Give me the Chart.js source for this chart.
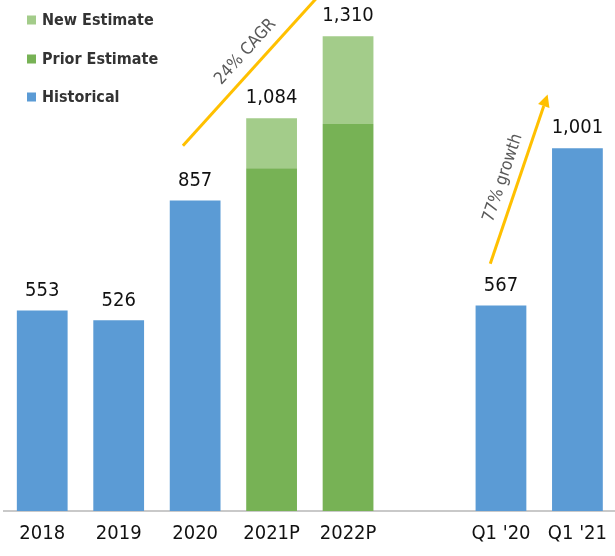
<!DOCTYPE html>
<html><head><meta charset="utf-8">
<script src="https://cdn.jsdelivr.net/npm/chart.js@4/dist/chart.umd.min.js"></script>
<style>
html,body{margin:0;padding:0;background:#fff;overflow:hidden;}
#wrap{position:relative;width:618px;height:556px;}
</style></head>
<body><div id="wrap"><canvas id="c"></canvas></div>
<script>
const categories = ["2018","2019","2020","2021P","2022P","","Q1 '20","Q1 '21"];
const historical = [553,526,857,null,null,null,567,1001];
const priorEstimate = [null,null,null,946,1068,null,null,null];
const newEstimate = [null,null,null,138,242,null,null,null];
const totals = [553,526,857,1084,1310,null,567,1001];
// annotations in data coordinates: [category index, value]
const cagrLine = [[1.84,1008],[3.63,1425]];
const cagrText = {text:"24% CAGR", at:[2.66,1267]};
const growthArrow = [[5.86,682],[6.61,1149]];
const growthText = {text:"77% growth", at:[6.027,919]};

const FONT = "'DejaVu Sans Condensed','DejaVu Sans','Open Sans',sans-serif";

const legendPlugin = {
  id:'customLegend',
  afterDraw(chart){
    const ctx = chart.ctx;
    const items = chart.data.datasets.slice().reverse();
    const ys = [20,59,97];
    ctx.save();
    ctx.font = "bold 16px " + FONT;
    ctx.textBaseline = 'middle';
    items.forEach((ds,i)=>{
      ctx.fillStyle = ds.backgroundColor;
      ctx.fillRect(27, ys[i]-4.5, 9, 9);
      ctx.fillStyle = '#333333';
      ctx.fillText(ds.label, 42, ys[i]+1);
    });
    ctx.restore();
  }
};

const labelPlugin = {
  id:'totals',
  afterDatasetsDraw(chart){
    const ctx = chart.ctx;
    ctx.save();
    ctx.font = "20px " + FONT;
    ctx.fillStyle = '#111111';
    ctx.textAlign = 'center';
    ctx.textBaseline = 'bottom';
    totals.forEach((t,i)=>{
      if(t==null) return;
      let top = null, x = null;
      chart.data.datasets.forEach((ds,di)=>{
        if(ds.data[i]==null) return;
        const el = chart.getDatasetMeta(di).data[i];
        if(top===null || el.y < top){ top = el.y; x = el.x; }
      });
      ctx.fillText(t.toLocaleString('en-US'), x, top - 10);
    });
    ctx.restore();
  }
};

const annotPlugin = {
  id:'annot',
  afterDraw(chart){
    const xs = chart.scales.x, ys = chart.scales.y, ctx = chart.ctx;
    const px = p => [xs.getPixelForValue(p[0]), ys.getPixelForValue(p[1])];
    ctx.save();
    ctx.strokeStyle = '#FFC000';
    ctx.fillStyle = '#FFC000';
    ctx.lineWidth = 3;
    ctx.lineCap = 'butt';
    let a = px(cagrLine[0]), b = px(cagrLine[1]);
    ctx.beginPath(); ctx.moveTo(a[0],a[1]); ctx.lineTo(b[0],b[1]); ctx.stroke();
    const ang1 = Math.atan2(b[1]-a[1], b[0]-a[0]);
    let c = px(growthArrow[0]), d = px(growthArrow[1]);
    const ang2 = Math.atan2(d[1]-c[1], d[0]-c[0]);
    const hl = 12, hw = 6;
    const bx = d[0]-hl*Math.cos(ang2), by = d[1]-hl*Math.sin(ang2);
    ctx.beginPath(); ctx.moveTo(c[0],c[1]); ctx.lineTo(bx,by); ctx.stroke();
    ctx.beginPath();
    ctx.moveTo(d[0],d[1]);
    ctx.lineTo(bx + hw*Math.sin(ang2), by - hw*Math.cos(ang2));
    ctx.lineTo(bx - hw*Math.sin(ang2), by + hw*Math.cos(ang2));
    ctx.closePath(); ctx.fill();
    ctx.font = "17px " + FONT;
    ctx.fillStyle = '#595959';
    ctx.textAlign = 'center';
    ctx.textBaseline = 'middle';
    [[cagrText,ang1],[growthText,ang2]].forEach(([t,ang])=>{
      const p = px(t.at);
      ctx.save();
      ctx.translate(p[0],p[1]);
      ctx.rotate(ang);
      ctx.fillText(t.text,0,0);
      ctx.restore();
    });
    ctx.restore();
  }
};

new Chart(document.getElementById('c'), {
  type:'bar',
  data:{
    labels: categories,
    datasets:[
      {label:'Historical', data:historical, backgroundColor:'#5B9BD5'},
      {label:'Prior Estimate', data:priorEstimate, backgroundColor:'#77B255'},
      {label:'New Estimate', data:newEstimate, backgroundColor:'#A3CC8A'}
    ]
  },
  options:{
    responsive:true,
    maintainAspectRatio:false,
    animation:false,
    devicePixelRatio:1,
    layout:{padding:{left:4,right:0,top:0,bottom:0}},
    datasets:{bar:{barPercentage:0.664, categoryPercentage:1, skipNull:false}},
    plugins:{legend:{display:false}, tooltip:{enabled:false}},
    scales:{
      x:{
        stacked:true,
        grid:{display:false, drawTicks:false},
        border:{display:true, color:'#c9c9c9', width:2},
        ticks:{color:'#111111', font:{family:FONT, size:20}, padding:11, maxRotation:0, autoSkip:false},
        afterFit(scale){ scale.height = 45; }
      },
      y:{
        stacked:true, display:false, min:0, max:1410
      }
    }
  },
  plugins:[legendPlugin, labelPlugin, annotPlugin]
});
</script></body></html>
